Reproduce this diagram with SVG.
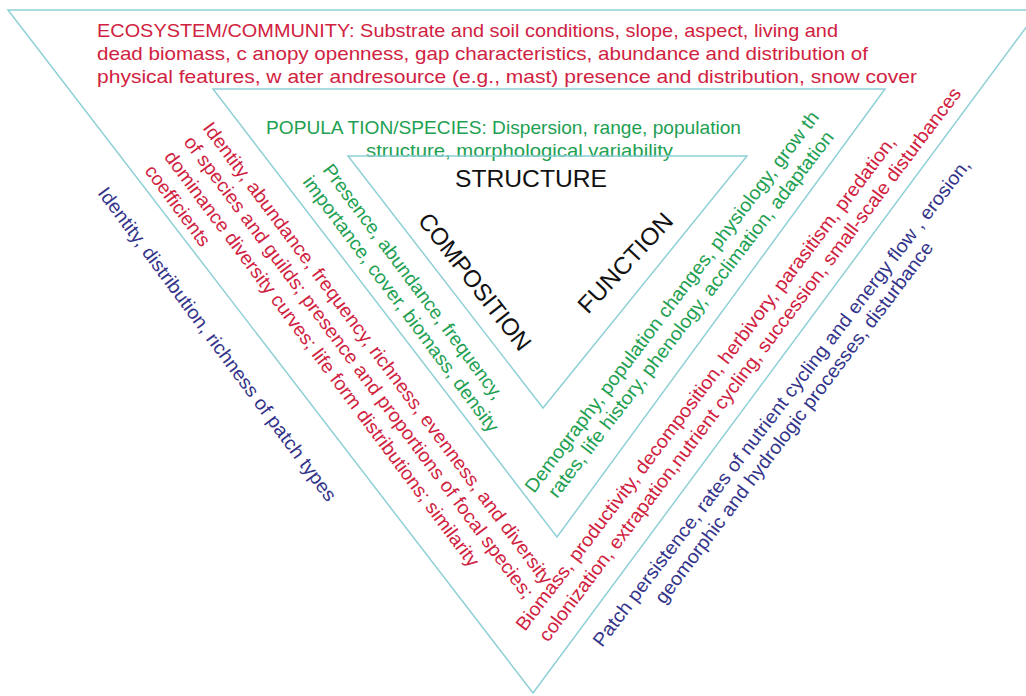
<svg xmlns="http://www.w3.org/2000/svg" width="1026" height="696" viewBox="0 0 1026 696">
<style>
text{font-family:"Liberation Sans",Arial,sans-serif;}
.red{fill:#d0223f;font-size:19px}
.grn{fill:#22a052;font-size:19px}
.blu{fill:#34348a;font-size:19px}
.blk{fill:#111111;font-size:24px}
.tri{fill:none;stroke:#8fd0d6;stroke-width:1.5}
</style>
<rect width="1026" height="696" fill="#ffffff"/>
<g id="connectors"/>
<g id="ecosystem-level">
<polygon class="tri" points="8,10 1039,10 533,693"/>
<text class="red" x="97" y="37" textLength="741" lengthAdjust="spacingAndGlyphs">ECOSYSTEM/COMMUNITY: Substrate and soil conditions, slope, aspect, living and</text>
<text class="red" x="97" y="60" textLength="771" lengthAdjust="spacingAndGlyphs">dead biomass, c anopy openness, gap characteristics, abundance and distribution of</text>
<text class="red" x="97" y="83" textLength="820" lengthAdjust="spacingAndGlyphs">physical features, w ater andresource (e.g., mast) presence and distribution, snow cover</text>
<text class="red" transform="translate(202,128) rotate(53.3)" textLength="571" lengthAdjust="spacingAndGlyphs">Identity, abundance, frequency, richness, evenness, and diversity</text>
<text class="red" transform="translate(183,142) rotate(53.3)" textLength="571" lengthAdjust="spacingAndGlyphs">of species and guilds; presence and proportions of focal species;</text>
<text class="red" transform="translate(163.5,157) rotate(53.3)" textLength="513" lengthAdjust="spacingAndGlyphs">dominance diversity curves; life form distributions; similarity</text>
<text class="red" transform="translate(144,171) rotate(53.3)" textLength="96" lengthAdjust="spacingAndGlyphs">coefficients</text>
<text class="red" transform="translate(525,632) rotate(-52.8)" textLength="615" lengthAdjust="spacingAndGlyphs">Biomass, productivity, decomposition, herbivory, parasitism, predation,</text>
<text class="red" transform="translate(548,643) rotate(-53)" textLength="688" lengthAdjust="spacingAndGlyphs">colonization, extrapation,nutrient cycling, succession, small-scale disturbances</text>
</g>
<g id="population-level">
<polygon class="tri" points="213,89 885,89 557,537"/>
<text class="grn" x="266" y="134" textLength="475" lengthAdjust="spacingAndGlyphs">POPULA TION/SPECIES: Dispersion, range, population</text>
<text class="grn" x="366" y="157" textLength="307" lengthAdjust="spacingAndGlyphs">structure, morphological variability</text>
<text class="grn" transform="translate(322,170) rotate(53.3)" textLength="288" lengthAdjust="spacingAndGlyphs">Presence, abundance, frequency,</text>
<text class="grn" transform="translate(302,182) rotate(53.3)" textLength="314" lengthAdjust="spacingAndGlyphs">importance, cover, biomass, density</text>
<text class="grn" transform="translate(534,494) rotate(-52.8)" textLength="473" lengthAdjust="spacingAndGlyphs">Demography, population changes, physiology, grow th</text>
<text class="grn" transform="translate(557,499) rotate(-52.5)" textLength="456" lengthAdjust="spacingAndGlyphs">rates, life history, phenology, acclimation, adaptation</text>
</g>
<g id="core">
<polygon class="tri" points="348,156 747,156 543,408"/>
<text class="blk" x="455" y="187" textLength="152" lengthAdjust="spacingAndGlyphs">STRUCTURE</text>
<text class="blk" transform="translate(417,221) rotate(52)" textLength="167" lengthAdjust="spacingAndGlyphs">COMPOSITION</text>
<text class="blk" transform="translate(588,315) rotate(-47)" textLength="127" lengthAdjust="spacingAndGlyphs">FUNCTION</text>
</g>
<g id="landscape-level">
<text class="blu" transform="translate(97,193) rotate(53.4)" textLength="386" lengthAdjust="spacingAndGlyphs">Identity, distribution, richness of patch types</text>
<text class="blu" transform="translate(602,648) rotate(-52.6)" textLength="608" lengthAdjust="spacingAndGlyphs">Patch persistence, rates of nutrient cycling and energy flow , erosion,</text>
<text class="blu" transform="translate(664,605) rotate(-52.9)" textLength="448" lengthAdjust="spacingAndGlyphs">geomorphic and hydrologic processes, disturbance</text>
</g>
</svg>
